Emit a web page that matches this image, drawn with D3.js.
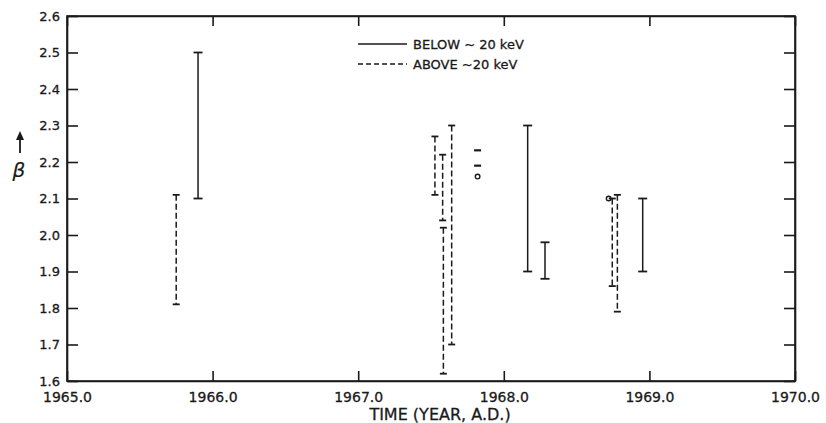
<html>
<script src="https://d3js.org/d3.v7.min.js"></script>
<style>
    body { margin: 0; background: #fff; }
    text { font-family: "DejaVu Sans", sans-serif; fill: #1a1a1a; stroke: #1a1a1a; stroke-width: 0.3px; }
</style>
<body>
    <svg width="826" height="423"></svg>
    <script>
        // error bars: time, low beta, high beta, line type
        const years = [1965.75, 1965.90, 1967.527, 1967.58, 1967.585, 1967.642, 1968.164, 1968.283, 1968.745, 1968.78, 1968.954];
        const lows = [1.81, 2.10, 2.11, 2.04, 1.62, 1.70, 1.90, 1.88, 1.86, 1.79, 1.90];
        const highs = [2.11, 2.50, 2.27, 2.22, 2.02, 2.30, 2.30, 1.98, 2.10, 2.11, 2.10];
        const kinds = ["dashed", "solid", "dashed", "dashed", "dashed", "dashed", "solid", "solid", "dashed", "dashed", "solid"];

        // single-value marks
        const dashYears = [1967.82, 1967.82];
        const dashValues = [2.232, 2.19];
        const circleYears = [1967.82, 1968.72];
        const circleValues = [2.16, 2.10];

        const xTicks = [1965, 1966, 1967, 1968, 1969, 1970];
        const yTicks = [1.6, 1.7, 1.8, 1.9, 2.0, 2.1, 2.2, 2.3, 2.4, 2.5, 2.6];
        const legendLabels = ["BELOW ~ 20 keV", "ABOVE  ~20 keV"];

        const ink = "#1a1a1a";
        const plotLeft = 67, plotRight = 795, plotTop = 16, plotBottom = 381;

        const svg = d3.select("svg");
        const xs = d3.scaleLinear().domain([1965, 1970]).range([plotLeft, plotRight]);
        const ys = d3.scaleLinear().domain([1.6, 2.6]).range([plotBottom, plotTop]);

        // axes, ticks point inward
        svg.append("g")
            .attr("transform", "translate(" + plotLeft + ",0)")
            .call(d3.axisLeft(ys).tickValues(yTicks).tickSize(-11).tickSizeOuter(0).tickPadding(7).tickFormat(d3.format(".1f")))
            .call(g => g.selectAll("text").style("font-size", "13px").attr("fill", ink));

        svg.append("g")
            .attr("transform", "translate(" + plotRight + ",0)")
            .call(d3.axisRight(ys).tickValues(yTicks).tickSize(-11).tickSizeOuter(0).tickFormat(""));

        svg.append("g")
            .attr("transform", "translate(0," + plotBottom + ")")
            .call(d3.axisBottom(xs).tickValues(xTicks).tickSize(-10).tickSizeOuter(0).tickPadding(11).tickFormat(d3.format(".1f")))
            .call(g => g.selectAll("text").style("font-size", "14px").attr("fill", ink));

        svg.append("g")
            .attr("transform", "translate(0," + plotTop + ")")
            .call(d3.axisTop(xs).tickValues(xTicks).tickSize(-10).tickSizeOuter(0).tickFormat(""));

        svg.selectAll(".domain, .tick line")
            .attr("stroke", ink)
            .attr("stroke-width", 1.6);

        svg.append("rect")
            .attr("x", plotLeft).attr("y", plotTop)
            .attr("width", plotRight - plotLeft).attr("height", plotBottom - plotTop)
            .attr("fill", "none").attr("stroke", ink).attr("stroke-width", 1.6);

        // axis titles
        svg.append("text")
            .attr("x", 440).attr("y", 420)
            .attr("text-anchor", "middle")
            .style("font-size", "16px")
            .text("TIME (YEAR, A.D.)");

        svg.append("line")
            .attr("x1", 20).attr("x2", 20).attr("y1", 153).attr("y2", 136)
            .attr("stroke", ink).attr("stroke-width", 1.8);
        svg.append("path")
            .attr("d", "M16,140 L20,131 L24,140 Z")
            .attr("fill", ink);
        svg.append("text")
            .attr("x", 19).attr("y", 177)
            .attr("text-anchor", "middle")
            .style("font-size", "20px")
            .style("font-style", "italic")
            .style("stroke-width", "0.2px")
            .text("β");

        // error bars
        const bars = svg.append("g").selectAll("g").data(years).enter().append("g");
        bars.append("line")
            .attr("x1", d => xs(d)).attr("x2", d => xs(d))
            .attr("y1", (d, i) => ys(highs[i])).attr("y2", (d, i) => ys(lows[i]))
            .attr("stroke", ink).attr("stroke-width", 1.5)
            .attr("stroke-dasharray", (d, i) => kinds[i] == "dashed" ? "6,3" : null);
        bars.append("line")
            .attr("x1", (d, i) => xs(d) - (kinds[i] == "dashed" ? 3.5 : 4.5))
            .attr("x2", (d, i) => xs(d) + (kinds[i] == "dashed" ? 3.5 : 4.5))
            .attr("y1", (d, i) => ys(highs[i])).attr("y2", (d, i) => ys(highs[i]))
            .attr("stroke", ink).attr("stroke-width", 1.8);
        bars.append("line")
            .attr("x1", (d, i) => xs(d) - (kinds[i] == "dashed" ? 3.5 : 4.5))
            .attr("x2", (d, i) => xs(d) + (kinds[i] == "dashed" ? 3.5 : 4.5))
            .attr("y1", (d, i) => ys(lows[i])).attr("y2", (d, i) => ys(lows[i]))
            .attr("stroke", ink).attr("stroke-width", 1.8);

        svg.append("g").selectAll("line").data(dashYears).enter().append("line")
            .attr("x1", d => xs(d) - 3.5).attr("x2", d => xs(d) + 3.5)
            .attr("y1", (d, i) => ys(dashValues[i])).attr("y2", (d, i) => ys(dashValues[i]))
            .attr("stroke", ink).attr("stroke-width", 2.2);

        svg.append("g").selectAll("circle").data(circleYears).enter().append("circle")
            .attr("cx", d => xs(d)).attr("cy", (d, i) => ys(circleValues[i]))
            .attr("r", 2.3)
            .attr("fill", "none").attr("stroke", ink).attr("stroke-width", 1.4);

        // legend
        const legend = svg.append("g").selectAll("g").data(legendLabels).enter().append("g")
            .attr("transform", (d, i) => "translate(0," + (44 + i * 20) + ")");
        legend.append("line")
            .attr("x1", 358).attr("x2", 407)
            .attr("stroke", ink).attr("stroke-width", 1.4)
            .attr("stroke-dasharray", (d, i) => i == 1 ? "5,3" : null);
        legend.append("text")
            .attr("x", 413).attr("y", 5)
            .style("font-size", "13px")
            .text(d => d);
    </script>
</body>
</html>
